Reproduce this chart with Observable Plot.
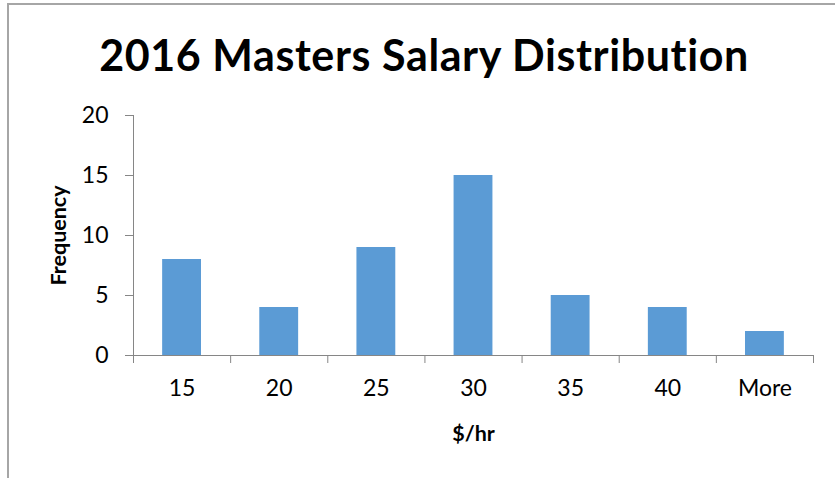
<!DOCTYPE html>
<html>
<head>
<meta charset="utf-8">
<script src="https://cdn.jsdelivr.net/npm/d3@7"></script>
<script src="https://cdn.jsdelivr.net/npm/@observablehq/plot@0.6"></script>
<style>
  html, body { margin: 0; padding: 0; background: #fff; }
  #chart { position: relative; width: 835px; height: 478px; overflow: hidden; font-family: Lato, "Open Sans", sans-serif; font-variant-ligatures: none; }
  #border { position: absolute; left: 7px; top: 3px; width: 840px; height: 490px; border-left: 2px solid #a6a6a6; border-top: 2px solid #a6a6a6; box-sizing: border-box; }
  #title { position: absolute; left: 0; width: 848px; top: 33px; text-align: center; font-weight: bold; font-size: 43px; letter-spacing: 0.6px; color: #000; line-height: 1; font-variant-ligatures: none; }
  #plot { position: absolute; left: 0; top: 0; }
  #plot svg text { font-variant-ligatures: none; }
</style>
</head>
<body>
<div id="chart">
  <div id="border"></div>
  <div id="title">2016 Masters Salary Distribution</div>
  <div id="plot"></div>
</div>
<script>
const categories = ["15", "20", "25", "30", "35", "40", "More"];
const frequencies = [8, 4, 9, 15, 5, 4, 2];
const yTicks = [0, 5, 10, 15, 20];

const data = categories.map((c, i) => ({i, category: c, value: frequencies[i]}));
const n = categories.length;
const gray = "#868686";

const plot = Plot.plot({
  width: 835,
  height: 478,
  marginTop: 115,
  marginBottom: 123,
  marginLeft: 133,
  marginRight: 22,
  style: {fontFamily: "Lato, 'Open Sans', sans-serif", background: "transparent", color: "#000"},
  x: {type: "linear", domain: [0, n]},
  y: {domain: [0, 20]},
  marks: [
    Plot.rectY(data, {x1: d => d.i + 0.3, x2: d => d.i + 0.7, y: "value", fill: "#5B9BD5"}),
    Plot.ruleY([0], {stroke: gray}),
    Plot.frame({anchor: "left", stroke: gray}),
    Plot.axisY(yTicks, {tickSize: 8, tickPadding: 17, stroke: gray, fontSize: 23, fill: "#000",
      label: "Frequency", labelAnchor: "center", labelArrow: "none", labelOffset: 83}),
    Plot.axisX(d3.range(n + 1), {tickSize: 8, stroke: gray, tickFormat: () => "", label: null}),
    Plot.axisX(d3.range(n).map(i => i + 0.5), {tickSize: 0, tickPadding: 24, fontSize: 23, fill: "#000",
      tickFormat: v => categories[Math.floor(v)], label: "$/hr", labelAnchor: "center", labelArrow: "none", labelOffset: 85})
  ]
});
document.getElementById("plot").appendChild(plot);
plot.querySelectorAll("[aria-label='y-axis label'] text, [aria-label='x-axis label'] text").forEach(t => {
  t.setAttribute("font-weight", "bold");
  t.setAttribute("font-size", "21.5");
});
</script>
</body>
</html>
